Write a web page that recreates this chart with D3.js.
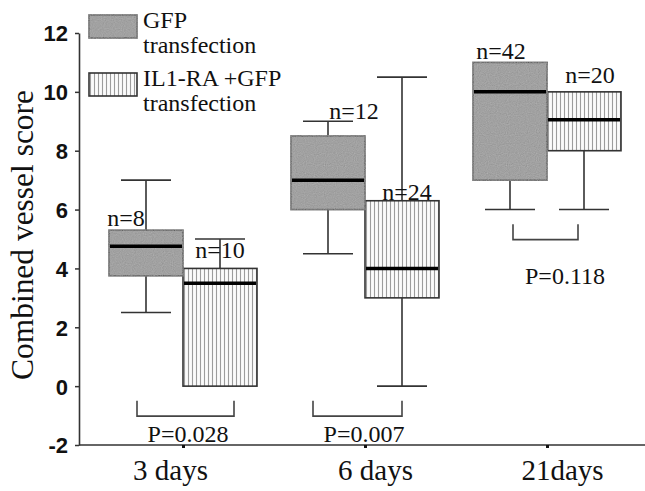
<!DOCTYPE html>
<html>
<head>
<meta charset="utf-8">
<script src="https://cdn.jsdelivr.net/npm/d3@7"></script>
<style>
  body { margin: 0; background: #fff; }
  svg { display: block; }
</style>
</head>
<body>
<script>
// data
var categories = ["3 days", "6 days", "21days"];
var seriesNames = ["GFP", "IL1RA"];
var legendLabels = [["GFP", "transfection"], ["IL1-RA +GFP", "transfection"]];
// [min, q1, median, q3, max]
var gfpBoxes = [[2.5, 3.75, 4.75, 5.3, 7], [4.5, 6, 7, 8.5, 9], [6, 7, 10, 11, 11]];
var il1raBoxes = [[0, 0, 3.5, 4, 5], [0, 3, 4, 6.3, 10.5], [6, 8, 9.05, 10, 10]];
var gfpN = ["n=8", "n=12", "n=42"];
var il1raN = ["n=10", "n=24", "n=20"];
var pValues = ["P=0.028", "P=0.007", "P=0.118"];
var yTicks = [-2, 0, 2, 4, 6, 8, 10, 12];

var W = 645, H = 491;
var svg = d3.select("body").append("svg").attr("width", W).attr("height", H);

var defs = svg.append("defs");
var pat = defs.append("pattern").attr("id", "stripes")
  .attr("patternUnits", "userSpaceOnUse").attr("width", 4).attr("height", 4);
pat.append("rect").attr("width", 4).attr("height", 4).attr("fill", "#fbfbfb");
pat.append("line").attr("x1", 1.5).attr("x2", 1.5).attr("y1", 0).attr("y2", 4)
  .attr("stroke", "#9c9c9c").attr("stroke-width", 1.1);

// grainy grey like the scan
var f = defs.append("filter").attr("id", "grain");
f.append("feTurbulence").attr("type", "fractalNoise").attr("baseFrequency", 0.9).attr("numOctaves", 1).attr("result", "n");
f.append("feColorMatrix").attr("in", "n").attr("type", "matrix")
  .attr("values", "0 0 0 0 0.55  0 0 0 0 0.55  0 0 0 0 0.55  0.35 0.35 0.35 0 -0.2").attr("result", "g");
f.append("feComposite").attr("in", "g").attr("in2", "SourceGraphic").attr("operator", "in").attr("result", "gi");
f.append("feMerge").selectAll("feMergeNode").data(["SourceGraphic", "gi"]).enter()
  .append("feMergeNode").attr("in", function(d){ return d; });

var y = d3.scaleLinear().domain([-2, 12]).range([445, 33]);
var x = d3.scalePoint().domain(categories).range([183, 547]);
var sub = d3.scaleBand().domain(seriesNames).range([-74, 74]);

var serif = "'Liberation Serif', 'Times New Roman', serif";
var axisCol = "#333";

// y axis
var yAxis = svg.append("g").attr("transform", "translate(79,0)")
  .call(d3.axisLeft(y).tickValues(yTicks).tickSize(4).tickSizeOuter(0).tickFormat(function(d){ return String(d); }));
yAxis.select(".domain").attr("stroke", axisCol).attr("stroke-width", 1.6);
yAxis.selectAll(".tick line").attr("stroke", axisCol).attr("stroke-width", 1.5);
yAxis.selectAll(".tick text")
  .attr("x", -11)
  .attr("dy", "0.36em")
  .style("font-family", "'Liberation Sans', Arial, sans-serif")
  .style("font-weight", "bold")
  .style("font-size", "22px")
  .attr("fill", "#111");

// x axis, line runs to the right edge
svg.append("line").attr("x1", 79).attr("x2", W).attr("y1", y(-2)).attr("y2", y(-2))
  .attr("stroke", axisCol).attr("stroke-width", 1.6);
var xAxis = svg.append("g").attr("transform", "translate(0," + y(-2) + ")")
  .call(d3.axisBottom(x).tickSize(3).tickSizeOuter(0));
xAxis.select(".domain").remove();
xAxis.selectAll(".tick line").attr("stroke", "#111").attr("stroke-width", 3);
var xLabelDx = [-13, 10, 15];
xAxis.selectAll(".tick text")
  .attr("y", 35)
  .attr("dy", 0)
  .attr("dx", function(d, i){ return xLabelDx[i]; })
  .style("font-family", serif)
  .style("font-size", "29px")
  .attr("fill", "#111");

// y title
svg.append("text")
  .attr("transform", "translate(33,235) rotate(-90)")
  .attr("text-anchor", "middle")
  .attr("textLength", 290)
  .attr("lengthAdjust", "spacingAndGlyphs")
  .style("font-family", serif)
  .style("font-size", "31px")
  .attr("fill", "#111")
  .text("Combined vessel score");

// boxes
function drawBoxes(data, key, fill, filter) {
  var g = svg.append("g").selectAll("g").data(data).enter().append("g")
    .attr("transform", function(d, i){ return "translate(" + (x(categories[i]) + sub(key)) + ",0)"; });
  var bw = sub.bandwidth(), cx = bw / 2;
  // whiskers
  g.each(function(d){
    var s = d3.select(this);
    if (d[4] > d[3]) {
      s.append("line").attr("x1", cx).attr("x2", cx).attr("y1", y(d[3])).attr("y2", y(d[4]))
        .attr("stroke", axisCol).attr("stroke-width", 1.6);
      s.append("line").attr("x1", cx - 25).attr("x2", cx + 25).attr("y1", y(d[4])).attr("y2", y(d[4]))
        .attr("stroke", axisCol).attr("stroke-width", 1.6);
    }
    if (d[0] < d[1]) {
      s.append("line").attr("x1", cx).attr("x2", cx).attr("y1", y(d[1])).attr("y2", y(d[0]))
        .attr("stroke", axisCol).attr("stroke-width", 1.6);
      s.append("line").attr("x1", cx - 25).attr("x2", cx + 25).attr("y1", y(d[0])).attr("y2", y(d[0]))
        .attr("stroke", axisCol).attr("stroke-width", 1.6);
    }
  });
  g.append("rect")
    .attr("x", 0).attr("width", bw)
    .attr("y", function(d){ return y(d[3]); })
    .attr("height", function(d){ return y(d[1]) - y(d[3]); })
    .attr("fill", fill)
    .attr("filter", filter)
    .attr("stroke", axisCol).attr("stroke-width", 1.6);
  g.append("line")
    .attr("x1", 1).attr("x2", bw - 1)
    .attr("y1", function(d){ return y(d[2]); })
    .attr("y2", function(d){ return y(d[2]); })
    .attr("stroke", "#000").attr("stroke-width", 3.5);
}
drawBoxes(il1raBoxes, "IL1RA", "url(#stripes)", null);
drawBoxes(gfpBoxes, "GFP", "#8d8d8d", "url(#grain)");

// n labels
var nNudge = { GFP: [[-20, -4], [26, -17], [-9, -3]], IL1RA: [[0, -10], [5, -1], [6, -9]] };
function nLabels(labels, data, key) {
  svg.append("g").selectAll("text").data(labels).enter().append("text")
    .attr("x", function(d, i){ return x(categories[i]) + sub(key) + sub.bandwidth() / 2 + nNudge[key][i][0]; })
    .attr("y", function(d, i){ return y(data[i][3]) + nNudge[key][i][1]; })
    .attr("text-anchor", "middle")
    .style("font-family", serif)
    .style("font-size", "24px")
    .attr("fill", "#111")
    .text(function(d){ return d; });
}
nLabels(gfpN, gfpBoxes, "GFP");
nLabels(il1raN, il1raBoxes, "IL1RA");

// significance brackets
var bracketX = [[-46, 51], [-52, 37], [-34, 31]];
var pLabelDx = [5, -1, 18];
var br = svg.append("g").selectAll("g").data(pValues).enter().append("g");
br.append("path")
  .attr("d", function(d, i){
    var lo = Math.min(gfpBoxes[i][0], il1raBoxes[i][0]);
    var c = x(categories[i]);
    var x0 = c + bracketX[i][0], x1 = c + bracketX[i][1];
    var yt = y(lo - 0.5), yb = y(lo - 1.02);
    return "M" + x0 + "," + yt + "V" + yb + "H" + x1 + "V" + yt;
  })
  .attr("fill", "none").attr("stroke", "#444").attr("stroke-width", 1.6);
br.append("text")
  .attr("x", function(d, i){ return x(categories[i]) + pLabelDx[i]; })
  .attr("y", function(d, i){
    var lo = Math.min(gfpBoxes[i][0], il1raBoxes[i][0]);
    return lo > 0 ? y(lo - 1.02) + 44 : y(-2) - 3;
  })
  .attr("text-anchor", "middle")
  .style("font-family", serif)
  .style("font-size", "24px")
  .attr("fill", "#111")
  .text(function(d){ return d; });

// legend
var leg = svg.append("g").selectAll("g").data(seriesNames).enter().append("g")
  .attr("transform", function(d, i){ return "translate(89," + (15 + i * 58) + ")"; });
leg.append("rect").attr("width", 48).attr("height", 23)
  .attr("fill", function(d){ return d === "GFP" ? "#8d8d8d" : "url(#stripes)"; })
  .attr("filter", function(d){ return d === "GFP" ? "url(#grain)" : null; })
  .attr("stroke", axisCol).attr("stroke-width", 1.6);
leg.each(function(d, i){
  d3.select(this).selectAll("text").data(legendLabels[i]).enter().append("text")
    .attr("x", 54)
    .attr("y", function(t, j){ return 13 + j * 25; })
    .style("font-family", serif)
    .style("font-size", "24px")
    .attr("fill", "#111")
    .text(function(t){ return t; });
});
</script>
</body>
</html>
